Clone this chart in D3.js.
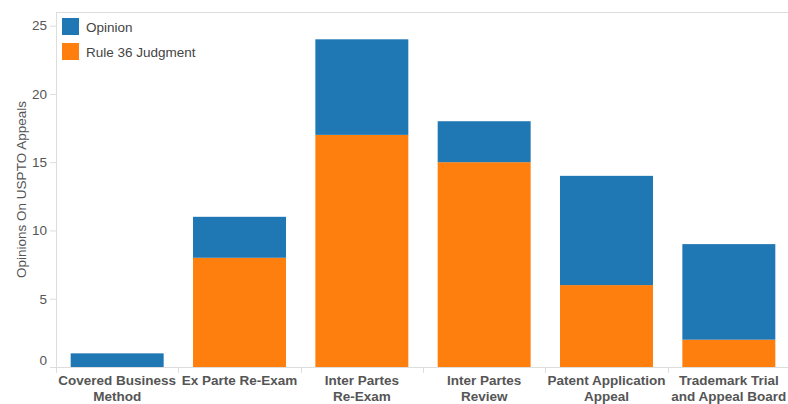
<!DOCTYPE html>
<html>
<head>
<meta charset="utf-8">
<script src="https://cdn.jsdelivr.net/npm/d3@7"></script>
<style>
    body { margin: 0; background: #fff; }
    text { font-family: "Liberation Sans", Arial, sans-serif; }
</style>
</head>
<body>
<div id="chart"></div>
<script>
// data
var categories = [
    ["Covered Business", "Method"],
    ["Ex Parte Re-Exam"],
    ["Inter Partes", "Re-Exam"],
    ["Inter Partes", "Review"],
    ["Patent Application", "Appeal"],
    ["Trademark Trial", "and Appeal Board"]
];
var rule36 = [0, 8, 17, 15, 6, 2];
var opinion = [1, 3, 7, 3, 8, 7];
var seriesNames = ["Opinion", "Rule 36 Judgment"];
var seriesColors = ["#1f77b4", "#ff7f0e"];
var yTicks = [0, 5, 10, 15, 20, 25];

var width = 788, height = 404;
var margin = {top: 12, left: 56, bottom: 37, right: -2};
var fontSize = '13.5px';

var svg = d3.select('#chart').append('svg')
    .attr('width', width)
    .attr('height', height);

var x = d3.scaleBand()
    .domain(d3.range(categories.length))
    .range([margin.left, width - margin.right])
    .paddingInner(0.24)
    .paddingOuter(0.12);

var y = d3.scaleLinear()
    .domain([0, 26])
    .range([height - margin.bottom, margin.top]);

// top frame line
svg.append('line')
    .attr('x1', margin.left).attr('x2', width)
    .attr('y1', margin.top + 0.5).attr('y2', margin.top + 0.5)
    .attr('stroke', '#ddd');

// bars: rule 36 at the bottom, opinion stacked on top
var bars = svg.append('g');
categories.forEach(function(c, i) {
    bars.append('rect')
        .attr('x', x(i))
        .attr('width', x.bandwidth())
        .attr('y', y(rule36[i]))
        .attr('height', y(0) - y(rule36[i]))
        .attr('fill', seriesColors[1]);
    bars.append('rect')
        .attr('x', x(i))
        .attr('width', x.bandwidth())
        .attr('y', y(rule36[i] + opinion[i]))
        .attr('height', y(rule36[i]) - y(rule36[i] + opinion[i]))
        .attr('fill', seriesColors[0]);
});

// y axis
var yAxis = svg.append('g')
    .attr('transform', 'translate(' + margin.left + ',0)')
    .call(d3.axisLeft(y).tickValues(yTicks).tickSize(6).tickPadding(3));
yAxis.select('.domain').attr('stroke', '#ddd').attr('d', 'M0.5,' + margin.top + 'V' + y(0));
yAxis.selectAll('.tick line').attr('stroke', '#ddd');
yAxis.selectAll('.tick text')
    .attr('fill', '#555')
    .style('font-size', fontSize)
    .style('font-family', '"Liberation Sans", Arial, sans-serif')
    .attr('dy', function(d) { return d === 0 ? '-0.2em' : '0.32em'; });

// x axis with band boundaries as ticks
var xAxis = svg.append('g')
    .attr('transform', 'translate(0,' + y(0) + ')');
xAxis.append('line')
    .attr('x1', margin.left - 6).attr('x2', width)
    .attr('y1', 0.5).attr('y2', 0.5)
    .attr('stroke', '#ddd');
d3.range(categories.length + 1).forEach(function(i) {
    var bx = Math.round(margin.left + i * x.step()) + 0.5;
    xAxis.append('line')
        .attr('x1', bx).attr('x2', bx)
        .attr('y1', 0).attr('y2', 6)
        .attr('stroke', '#ddd');
});
categories.forEach(function(lines, i) {
    var t = xAxis.append('text')
        .attr('x', x(i) + x.bandwidth() / 2)
        .attr('y', 18)
        .attr('text-anchor', 'middle')
        .attr('fill', '#555')
        .style('font-size', fontSize)
        .style('font-weight', 'bold');
    lines.forEach(function(l, j) {
        t.append('tspan')
            .attr('x', x(i) + x.bandwidth() / 2)
            .attr('dy', j === 0 ? 0 : 16)
            .text(l);
    });
});

// y title
svg.append('text')
    .attr('transform', 'translate(26,' + (margin.top + y(0)) / 2 + ') rotate(-90)')
    .attr('text-anchor', 'middle')
    .attr('fill', '#555')
    .style('font-size', fontSize)
    .text('Opinions On USPTO Appeals');

// legend
var legend = svg.append('g').attr('transform', 'translate(62,18)');
seriesNames.forEach(function(name, i) {
    var g = legend.append('g').attr('transform', 'translate(0,' + i * 25 + ')');
    g.append('rect')
        .attr('width', 17).attr('height', 17)
        .attr('fill', seriesColors[i]);
    g.append('text')
        .attr('x', 24).attr('y', 13.5)
        .attr('fill', '#444')
        .style('font-size', fontSize)
        .text(name);
});
</script>
</body>
</html>
